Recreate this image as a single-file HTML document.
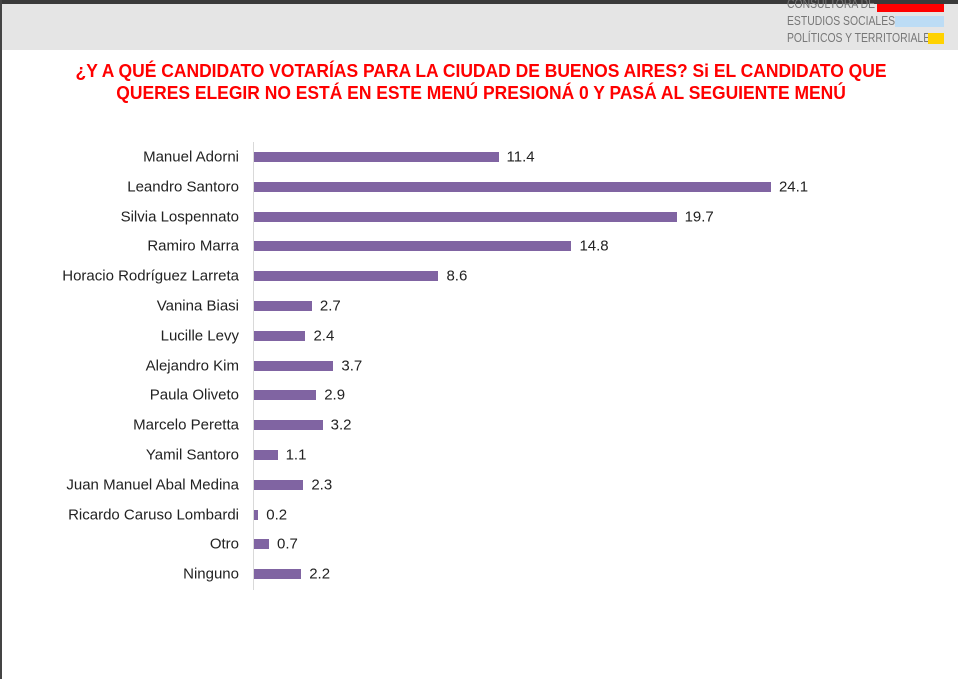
<!DOCTYPE html>
<html><head><meta charset="utf-8"><style>
body{margin:0;width:958px;height:679px;background:#fff;position:relative;overflow:hidden;font-family:"Liberation Sans",sans-serif}
.a{position:absolute}
.lbl{position:absolute;right:719px;font-size:15px;color:#222;white-space:nowrap;transform:translateY(-50%)}
.bar{position:absolute;left:254px;height:10px;background:#8064a2;transform:translateY(-50%)}
.val{position:absolute;font-size:15px;color:#222;transform:translateY(-50%)}
.t{position:absolute;left:0;width:962px;text-align:center;color:#f00;font-weight:bold;font-size:18px;white-space:nowrap}
.t span{display:inline-block;transform:scaleX(0.97)}
.lg{position:absolute;left:787px;font-size:13px;color:#777;white-space:nowrap;transform:scaleX(0.8);transform-origin:left}
</style></head><body>
<div class="a" style="left:0;top:0;width:958px;height:4px;background:#3a3a3a"></div>
<div class="a" style="left:0;top:4px;width:958px;height:46px;background:#e5e5e5"></div>
<div class="a" style="left:0;top:0;width:2px;height:679px;background:#444"></div>
<div class="lg" style="top:-4px">CONSULTORA DE</div>
<div class="lg" style="top:13px">ESTUDIOS SOCIALES,</div>
<div class="lg" style="top:30px">POLÍTICOS Y TERRITORIALES</div>
<div class="a" style="left:877px;top:4px;width:67px;height:8px;background:#f00"></div>
<div class="a" style="left:895px;top:16px;width:49px;height:11px;background:#bcdcf5"></div>
<div class="a" style="left:928px;top:33px;width:16px;height:11px;background:#ffd200"></div>
<div class="t" style="top:61px"><span>¿Y A QUÉ CANDIDATO VOTARÍAS PARA LA CIUDAD DE BUENOS AIRES? Si EL CANDIDATO QUE</span></div>
<div class="t" style="top:83px"><span>QUERES ELEGIR NO ESTÁ EN ESTE MENÚ PRESIONÁ 0 Y PASÁ AL SEGUIENTE MENÚ</span></div>
<div class="a" style="left:253px;top:142px;width:1px;height:448px;background:#d9d9d9"></div>
<div id="c"></div>
<script>
var d=[["Manuel Adorni",11.4],["Leandro Santoro",24.1],["Silvia Lospennato",19.7],["Ramiro Marra",14.8],["Horacio Rodríguez Larreta",8.6],["Vanina Biasi",2.7],["Lucille Levy",2.4],["Alejandro Kim",3.7],["Paula Oliveto",2.9],["Marcelo Peretta",3.2],["Yamil Santoro",1.1],["Juan Manuel Abal Medina",2.3],["Ricardo Caruso Lombardi",0.2],["Otro",0.7],["Ninguno",2.2]];
var h="";d.forEach(function(r,i){var y=157+i*29.8,w=r[1]*21.45;
h+='<div class="lbl" style="top:'+y+'px">'+r[0]+'</div><div class="bar" style="top:'+y+'px;width:'+w+'px"></div><div class="val" style="top:'+y+'px;left:'+(254+w+8)+'px">'+r[1].toFixed(1)+'</div>';});
document.getElementById("c").innerHTML=h;
</script>
</body></html>
